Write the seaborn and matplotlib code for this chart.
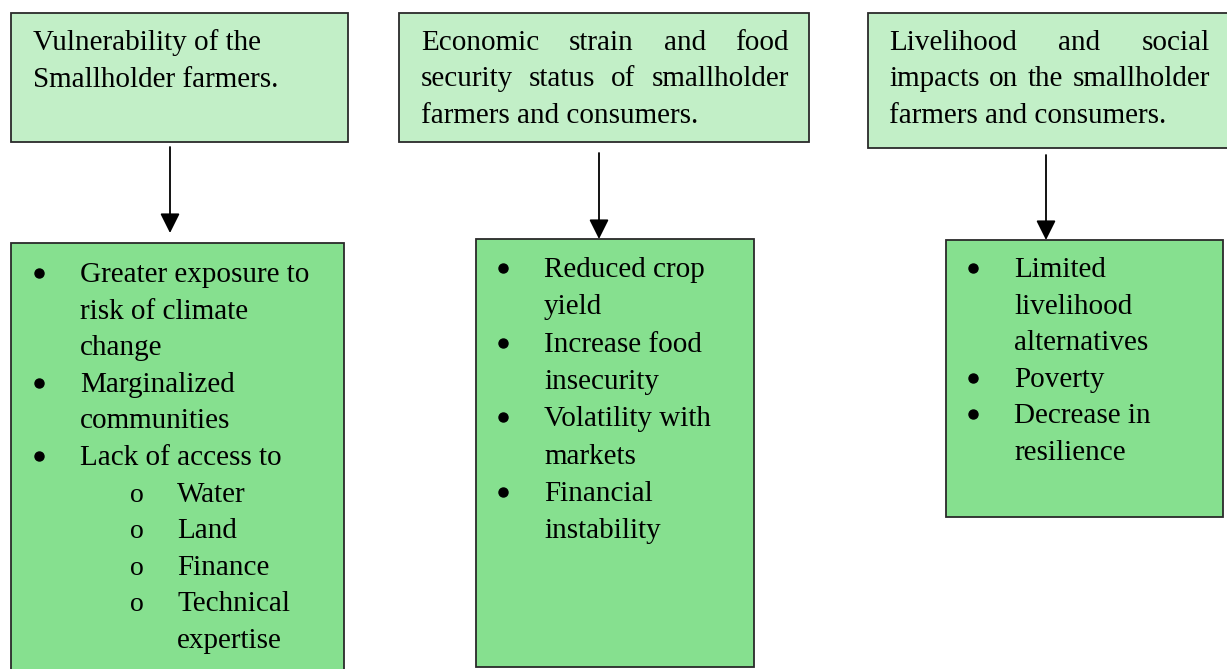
import matplotlib
matplotlib.use("Agg")
import matplotlib.pyplot as plt
import seaborn as sns
from matplotlib.patches import Rectangle

sns.set_theme(style="white")
plt.rcParams['font.family'] = ['Liberation Serif', 'DejaVu Serif']

# ---- content ----
header_1 = ["Vulnerability of the", "Smallholder farmers."]
header_2 = ["Economic strain and food", "security status of smallholder", "farmers and consumers."]
header_3 = ["Livelihood and social", "impacts on the smallholder", "farmers and consumers."]
justify_1 = [False, False]
justify_2 = [True, True, False]
justify_3 = [True, True, False]

items_1 = ["Greater exposure to", "risk of climate", "change", "Marginalized", "communities",
           "Lack of access to", "Water", "Land", "Finance", "Technical", "expertise"]
marks_1 = ["•", "", "", "•", "", "•", "o", "o", "o", "o", ""]
levels_1 = [1, 1, 1, 1, 1, 1, 2, 2, 2, 2, 2]

items_2 = ["Reduced crop", "yield", "Increase food", "insecurity", "Volatility with", "markets",
           "Financial", "instability"]
marks_2 = ["•", "", "•", "", "•", "", "•", ""]
levels_2 = [1] * 8

items_3 = ["Limited", "livelihood", "alternatives", "Poverty", "Decrease in", "resilience"]
marks_3 = ["•", "", "", "•", "•", ""]
levels_3 = [1] * 6

# ---- layout (pixels) ----
TOP_FILL = "#C2EFC7"
BOT_FILL = "#86E08F"
EDGE = "#2a2a2a"
FS = 21

fig = plt.figure(figsize=(12.27, 6.69), dpi=100)
ax = fig.add_axes([0, 0, 1, 1])
ax.set_xlim(0, 1227)
ax.set_ylim(669, 0)
ax.axis("off")
renderer = fig.canvas.get_renderer()


def box(x0, y0, x1, y1, fill):
    ax.add_patch(Rectangle((x0, y0), x1 - x0, y1 - y0, facecolor=fill, edgecolor=EDGE,
                           lw=1.3, clip_on=False))


def text_width(s):
    t = ax.text(0, 0, s, fontsize=FS, color="black")
    w = t.get_window_extent(renderer).width
    t.remove()
    return w


def header(lines, just, x0, x1, y0, dy):
    for i, (line, j) in enumerate(zip(lines, just)):
        y = y0 + i * dy
        if j:
            words = line.split()
            widths = [text_width(w) for w in words]
            gap = (x1 - x0 - sum(widths)) / (len(words) - 1)
            x = x0
            for w, wd in zip(words, widths):
                ax.text(x, y, w, fontsize=FS, color="black", ha="left", va="baseline")
                x += wd + gap
        else:
            ax.text(x0, y, line, fontsize=FS, color="black", ha="left", va="baseline")


def bullets(items, marks, levels, xb1, xt1, xb2, xt2, y0, dy):
    for i, (it, mk, lv) in enumerate(zip(items, marks, levels)):
        y = y0 + i * dy
        xb, xt = (xb1, xt1) if lv == 1 else (xb2, xt2)
        if mk == "•":
            ax.plot([xb], [y - 9], marker="o", ms=6.5, color="black", mec="black", clip_on=False)
        elif mk == "o":
            ax.text(xb, y, "o", fontsize=FS * 0.95, color="black", ha="center", va="baseline")
        ax.text(xt, y, it, fontsize=FS, color="black", ha="left", va="baseline")


def arrow(x, ya, yb):
    ax.annotate("", xy=(x, yb), xytext=(x, ya),
                arrowprops=dict(arrowstyle="-|>,head_length=1.0,head_width=0.5",
                                color="black", lw=1.3, shrinkA=0, shrinkB=0))


# column 1
box(11, 13, 348, 142, TOP_FILL)
header(header_1, justify_1, 33, 330, 50, 37)
arrow(170, 147, 233)
box(11, 243, 344, 690, BOT_FILL)
bullets(items_1, marks_1, levels_1, 39, 80, 137, 177, 282, 36.6)

# column 2
box(399, 13, 809, 142, TOP_FILL)
header(header_2, justify_2, 421, 789, 50, 36.5)
arrow(599, 153, 239)
box(476, 239, 754, 667, BOT_FILL)
bullets(items_2, marks_2, levels_2, 503, 544, 503, 544, 277, 37.3)

# column 3
box(868, 13, 1240, 148, TOP_FILL)
header(header_3, justify_3, 889, 1210, 50, 36.5)
arrow(1046, 155, 240)
box(946, 240, 1223, 517, BOT_FILL)
bullets(items_3, marks_3, levels_3, 973, 1014, 973, 1014, 277, 36.6)

fig.savefig("out.png", dpi=100)
